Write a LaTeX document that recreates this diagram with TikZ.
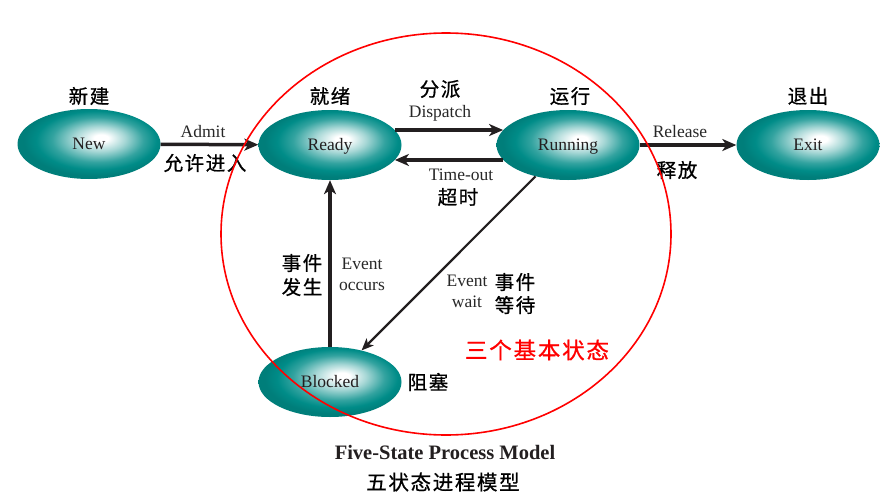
\documentclass[tikz,border=0pt]{standalone}
\usepackage{fontspec}
\setmainfont{Liberation Serif}
\newfontfamily\cjk{Noto Sans CJK SC}[LetterSpace=8, FakeBold=0.8]
\usetikzlibrary{arrows.meta,shapes.geometric}
\definecolor{tealc}{RGB}{0,140,136}
\definecolor{ink}{RGB}{35,31,32}
\definecolor{lblgray}{RGB}{40,40,40}
\pgfdeclareradialshading{ballteal}{\pgfpoint{4.5bp}{4.5bp}}{color(0bp)=(white); color(2.5bp)=(white); color(9bp)=(tealc!35!white); color(16bp)=(tealc!80!white); color(21bp)=(tealc); color(25bp)=(tealc!90!black); color(50bp)=(tealc!90!black)}
\tikzset{
  state/.style={ellipse, minimum width=143pt, minimum height=70pt, inner sep=0pt,
    shading=ballteal, font=\fontsize{17.5}{18}\selectfont, text=ink,
    text height=1.2em, text depth=0.1em},
  flow/.style={draw=ink, line width=3.5pt, -{Stealth[length=14pt,width=12pt,inset=4pt]}},
  thinflow/.style={draw=ink, line width=2.2pt, -{Stealth[length=12pt,width=10pt,inset=3pt]}},
  lbl/.style={font=\fontsize{17.5}{21}\selectfont, text=lblgray, inner sep=0pt,
    text height=1.2em, text depth=0.1em},
  zh/.style={font=\cjk\fontsize{19.5}{22}\selectfont, text=black, inner sep=0pt},
  zhred/.style={font=\cjk\fontsize{22.5}{24}\selectfont, text=red, inner sep=0pt},
  zhtitle/.style={font=\cjk\fontsize{20.5}{24}\selectfont, text=black, inner sep=0pt},
  title/.style={font=\bfseries\fontsize{20.5}{24}\selectfont, text=ink, inner sep=0pt},
}
\begin{document}
\begin{tikzpicture}[x=1pt,y=-1pt]
\useasboundingbox (0,0) rectangle (889,498);
\fill[white] (0,0) rectangle (889,498);
% states
\node[state] (new) at (89,144) {New};
\node[state] (ready) at (330,145) {Ready};
\node[state] (run) at (568,145) {Running};
\node[state] (exit) at (808,145) {Exit};
\node[state] (blk) at (330,382) {Blocked};
% transitions
\draw[flow] (new) -- (ready);
\draw[flow] (ready.13) -- (run.167);
\draw[flow] (run.193) -- (ready.-13);
\draw[flow] (run) -- (exit);
\draw[flow] (blk) -- (ready);
\draw[thinflow] (run.224) -- (blk.45);
% state titles
\node[zh] (tnew) at (89,96) {新建};
\node[zh] (tready) at (330,96) {就绪};
\node[zh] (trun) at (570,96) {运行};
\node[zh] (texit) at (808,96) {退出};
% transition labels
\node[lbl] (admit) at (203,132) {Admit};
\node[zh] (admitzh) at (205,163) {允许进入};
\node[zh] (dispzh) at (440,89) {分派};
\node[lbl] (disp) at (440,112) {Dispatch};
\node[lbl] (tout) at (461,175) {Time-out};
\node[zh] (toutzh) at (458,197) {超时};
\node[lbl] (rel) at (680,132) {Release};
\node[zh] (relzh) at (677,170) {释放};
\node[zh] (occzh1) at (302,263) {事件};
\node[zh] (occzh2) at (302,287) {发生};
\node[lbl] (occ1) at (362,264) {Event};
\node[lbl] (occ2) at (362,285) {occurs};
\node[lbl] (wait1) at (467,281) {Event};
\node[lbl] (wait2) at (467,302) {wait};
\node[zh] (waitzh1) at (515,282) {事件};
\node[zh] (waitzh2) at (515,305) {等待};
\node[zh] (blkzh) at (428,382) {阻塞};
\node[zhred] (three) at (537,350) {三个基本状态};
\node[title] (ttl) at (445,452) {Five-State Process Model};
\node[zhtitle] (ttlzh) at (443,482) {五状态进程模型};
% red circle
\draw[red, line width=1.6pt] (446,234) ellipse [x radius=225pt, y radius=201pt];
\end{tikzpicture}
\end{document}
